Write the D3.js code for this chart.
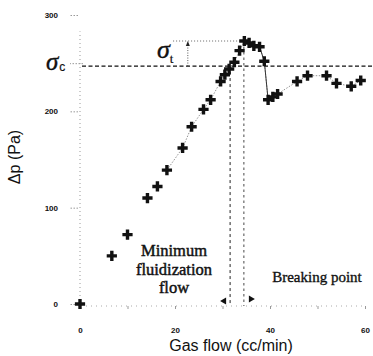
<!DOCTYPE html>
<html>
<head>
<meta charset="utf-8">
<script src="https://cdn.jsdelivr.net/npm/d3@7"></script>
<style>
  body { margin: 0; background: #fff; }
  svg { display: block; }
</style>
</head>
<body>
<svg id="fig" width="373" height="356"></svg>
<script>
// gas flow (cc/min) and pressure drop (Pa)
const flow = [0, 6.7, 10.0, 14.2, 16.3, 18.3, 21.6, 23.5, 26.0, 27.5, 29.6, 30.5, 31.4, 32.5,
              33.6, 34.6, 35.6, 36.6, 37.8, 38.8, 39.6, 40.6, 41.6, 45.7, 47.9, 51.9, 54.0, 57.1, 59.1];
const dp   = [0, 50, 72, 110, 122, 139, 162, 184, 202, 212, 231, 238, 244, 251,
              263, 273, 271, 268, 267, 252, 212, 215, 218, 231, 237, 237, 229, 226, 232];

const xTicks = [0, 10, 20, 30, 40, 50, 60];
const xTickLabels = [0, 20, 40, 60];
const yTicks = [0, 100, 200, 250, 300];
const yTickLabels = [0, 100, 200, 300];

// annotation values
const sigmaC = 247;          // cohesive stress level
const sigmaT = 273;          // peak (tensile) level
const minFluidFlow = 31.6;   // minimum fluidization flow
const breakFlow = 34.5;      // breaking point
const sigmaTFrom = 19.6;     // start of dotted sigma_t line
const sigmaTArrowX = 22.7;

const svg = d3.select("#fig");
const x = d3.scaleLinear().domain([0, 60]).range([80, 365]);
const y = d3.scaleLinear().domain([0, 300]).range([304, 15]);

const serif = "'Liberation Serif', 'Times New Roman', serif";
const sans = "'Liberation Sans', Arial, sans-serif";

// ---- axes (faint, dotted like the scan)
const yAxis = svg.append("g")
    .attr("transform", "translate(" + x(0) + ",0)")
    .call(d3.axisLeft(y).tickValues(yTicks).tickSize(10).tickPadding(12)
          .tickFormat(d => yTickLabels.includes(d) ? d : ""));
yAxis.select(".domain").attr("stroke", "#999").attr("stroke-dasharray", "1,3")
     .attr("d", "M0," + (y(0) - 4) + "V" + y(283));
yAxis.selectAll(".tick line").attr("stroke", "#999").attr("stroke-dasharray", "1.5,1.5")
     .attr("x1", d => d == 250 ? 3 : -2);
yAxis.selectAll(".tick text")
     .style("font-family", sans).style("font-size", "8px").style("font-weight", "bold").attr("fill", "#111");

const xAxis = svg.append("g")
    .attr("transform", "translate(0," + (y(0) + 2) + ")")
    .call(d3.axisBottom(x).tickValues(xTicks).tickSize(3).tickPadding(18)
          .tickFormat(d => xTickLabels.includes(d) ? d : ""));
xAxis.select(".domain").attr("stroke", "#aaa").attr("stroke-dasharray", "1,4")
     .attr("d", "M" + (x(0) + 6) + ",0H" + x(60));
xAxis.selectAll(".tick line").attr("stroke", "#999");
xAxis.selectAll(".tick text")
     .style("font-family", sans).style("font-size", "8px").style("font-weight", "bold").attr("fill", "#111");

// ---- reference lines
svg.append("line")
    .attr("x1", x(0) + 2).attr("x2", 373)
    .attr("y1", y(sigmaC)).attr("y2", y(sigmaC))
    .attr("stroke", "#111").attr("stroke-width", 1.2).attr("stroke-dasharray", "4,2.5");

svg.append("line")
    .attr("x1", x(sigmaTFrom)).attr("x2", x(breakFlow))
    .attr("y1", y(sigmaT)).attr("y2", y(sigmaT))
    .attr("stroke", "#555").attr("stroke-width", 0.9).attr("stroke-dasharray", "1,2");

svg.append("line")
    .attr("x1", x(sigmaTArrowX)).attr("x2", x(sigmaTArrowX))
    .attr("y1", y(sigmaC)).attr("y2", y(sigmaT) + 2)
    .attr("stroke", "#444").attr("stroke-width", 0.9).attr("stroke-dasharray", "1,1.5");
svg.append("path")
    .attr("d", "M" + x(sigmaTArrowX) + "," + y(sigmaT) + "l-2,5h4z")
    .attr("fill", "#222");

svg.append("line")
    .attr("x1", x(minFluidFlow)).attr("x2", x(minFluidFlow))
    .attr("y1", y(sigmaC)).attr("y2", y(0) + 1)
    .attr("stroke", "#222").attr("stroke-width", 1).attr("stroke-dasharray", "3,3");
svg.append("line")
    .attr("x1", x(breakFlow)).attr("x2", x(breakFlow))
    .attr("y1", y(sigmaT)).attr("y2", y(0) + 2)
    .attr("stroke", "#333").attr("stroke-width", 0.9).attr("stroke-dasharray", "2.5,3");

// little arrowheads at the foot of the two vertical lines
svg.append("path")
    .attr("d", "M" + (x(minFluidFlow) - 10) + "," + (y(0) - 3) + "l6,-3.5v7z")
    .attr("fill", "#111");
svg.append("path")
    .attr("d", "M" + (x(breakFlow) + 11) + "," + (y(0) - 5) + "l-6,-3.5v7z")
    .attr("fill", "#111");

// ---- connecting line through the data
const pts = flow.map((f, i) => ({ f: f, p: dp[i] }));
const line = d3.line().x(d => x(d.f)).y(d => y(d.p));

svg.append("path")
    .datum(pts.slice(5))
    .attr("d", line)
    .attr("fill", "none").attr("stroke", "#777").attr("stroke-width", 0.8)
    .attr("stroke-dasharray", "1.5,1.5");
svg.append("path")
    .datum(pts.slice(17, 21))
    .attr("d", line)
    .attr("fill", "none").attr("stroke", "#333").attr("stroke-width", 1);

// ---- data crosses
svg.append("g").selectAll("path")
    .data(pts)
    .enter().append("path")
    .attr("transform", d => "translate(" + x(d.f) + "," + y(d.p) + ")")
    .attr("d", d3.symbol().type(d3.symbolCross).size(58))
    .attr("fill", "#111");

// ---- labels
const sc = svg.append("text").attr("x", 46).attr("y", 70).attr("fill", "#111")
    .attr("stroke", "#111").attr("stroke-width", 0.4);
sc.append("tspan").style("font-family", serif).style("font-style", "italic").style("font-size", "25px").text("σ");
sc.append("tspan").attr("dx", 1).attr("dy", 1).attr("stroke-width", 0.2)
    .style("font-family", sans).style("font-size", "12px").text("c");

const st = svg.append("text").attr("x", 157).attr("y", 58).attr("fill", "#111")
    .attr("stroke", "#111").attr("stroke-width", 0.4);
st.append("tspan").style("font-family", serif).style("font-style", "italic").style("font-size", "26px").text("σ");
st.append("tspan").attr("dx", 0).attr("dy", 5).attr("stroke-width", 0.2)
    .style("font-family", serif).style("font-size", "13px").text("t");

const mf = ["Minimum", "fluidization", "flow"];
mf.forEach(function(t, i){
    svg.append("text")
        .attr("x", 174).attr("y", 256 + i * 18.5)
        .attr("text-anchor", "middle")
        .style("font-family", serif).style("font-size", "16.5px")
        .attr("fill", "#111").attr("stroke", "#111").attr("stroke-width", 0.45)
        .text(t);
});

svg.append("text")
    .attr("x", 317).attr("y", 282)
    .attr("text-anchor", "middle")
    .style("font-family", serif).style("font-size", "15px")
    .attr("fill", "#111").attr("stroke", "#111").attr("stroke-width", 0.35)
    .text("Breaking point");

svg.append("text")
    .attr("transform", "translate(20,157) rotate(-90)")
    .attr("text-anchor", "middle")
    .style("font-family", sans).style("font-size", "16px")
    .attr("fill", "#111")
    .text("Δp (Pa)");

svg.append("text")
    .attr("x", 231).attr("y", 351)
    .attr("text-anchor", "middle")
    .style("font-family", sans).style("font-size", "16px")
    .attr("fill", "#111")
    .text("Gas flow (cc/min)");
</script>
</body>
</html>
